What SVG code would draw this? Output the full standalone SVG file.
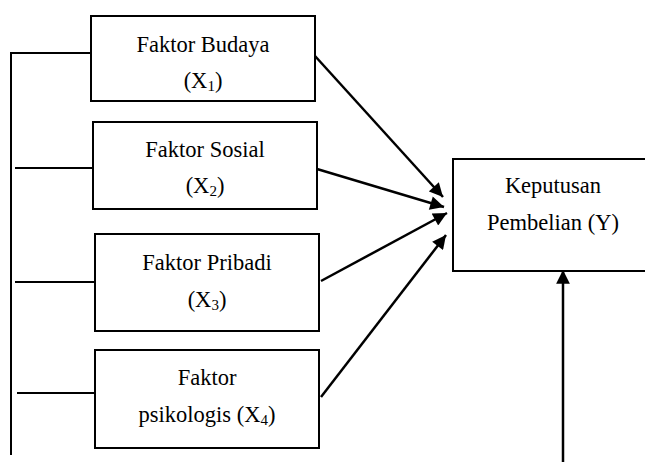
<svg xmlns="http://www.w3.org/2000/svg" width="645" height="465" viewBox="0 0 645 465">
<defs>
<style>
.box{fill:#fff;stroke:#000;stroke-width:2}
.ln{stroke:#000;stroke-width:2;fill:none}
.ar{stroke:#000;stroke-width:2.5;fill:none}
.t{font-family:"Liberation Serif","Times New Roman",serif;font-size:22.5px;fill:#000;text-anchor:middle}
.sub{font-size:15px}
</style>
<marker id="ah" viewBox="0 0 10 10" refX="10" refY="5" markerWidth="6" markerHeight="5.5" markerUnits="strokeWidth" orient="auto">
<path d="M0,0 L10,5 L0,10 z" fill="#000"/>
</marker>
</defs>
<g id="connectors">
<line class="ln" x1="11" y1="53" x2="11" y2="455"/>
<line class="ln" x1="10" y1="53" x2="91" y2="53"/>
<line class="ln" x1="15" y1="168" x2="93" y2="168"/>
<line class="ln" x1="15" y1="282" x2="95" y2="282"/>
<line class="ln" x1="17" y1="393" x2="95" y2="393"/>
<line class="ar" x1="315" y1="56" x2="443" y2="197" marker-end="url(#ah)"/>
<line class="ar" x1="317" y1="169" x2="444" y2="207" marker-end="url(#ah)"/>
<line class="ar" x1="321" y1="281" x2="447" y2="213" marker-end="url(#ah)"/>
<line class="ar" x1="321" y1="397" x2="446" y2="235" marker-end="url(#ah)"/>
<line class="ar" x1="563" y1="462" x2="563" y2="270" marker-end="url(#ah)"/>
</g>
<g id="x1">
<rect class="box" x="91" y="16" width="224" height="85"/>
<text class="t" x="203" y="52">Faktor Budaya</text>
<text class="t" x="203" y="88">(X<tspan class="sub" dy="3">1</tspan><tspan dy="-3">)</tspan></text>
</g>
<g id="x2">
<rect class="box" x="93" y="122" width="224" height="87"/>
<text class="t" x="205" y="157">Faktor Sosial</text>
<text class="t" x="205" y="193">(X<tspan class="sub" dy="3">2</tspan><tspan dy="-3">)</tspan></text>
</g>
<g id="x3">
<rect class="box" x="95" y="234" width="224" height="97"/>
<text class="t" x="207" y="270">Faktor Pribadi</text>
<text class="t" x="207" y="307">(X<tspan class="sub" dy="3">3</tspan><tspan dy="-3">)</tspan></text>
</g>
<g id="x4">
<rect class="box" x="95" y="350" width="224" height="98"/>
<text class="t" x="207" y="385">Faktor</text>
<text class="t" x="207" y="422">psikologis (X<tspan class="sub" dy="3">4</tspan><tspan dy="-3">)</tspan></text>
</g>
<g id="y">
<rect class="box" x="453" y="159" width="196" height="112"/>
<text class="t" x="553" y="193">Keputusan</text>
<text class="t" x="553" y="230">Pembelian (Y)</text>
</g>
</svg>
